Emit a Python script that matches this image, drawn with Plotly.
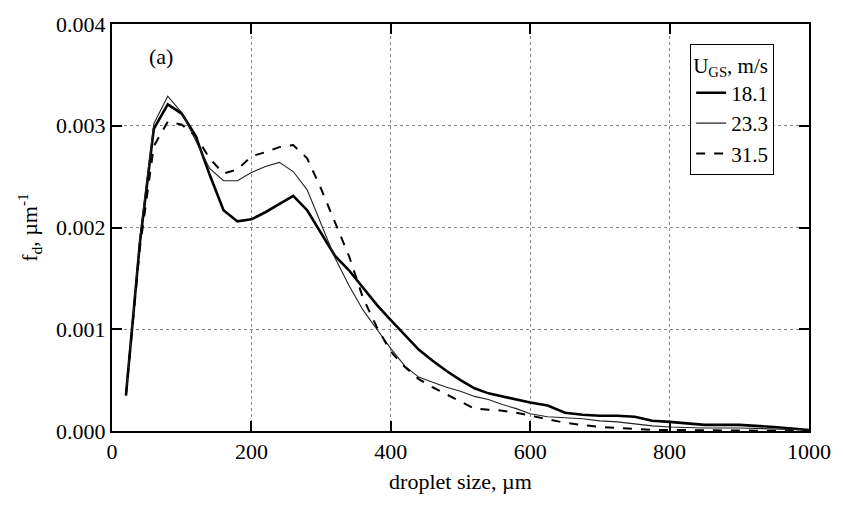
import plotly.graph_objects as go

size_um = [20, 40, 60, 80, 100, 120, 140, 160, 180, 200, 220, 240, 260, 280, 300,
           320, 340, 360, 380, 400, 420, 440, 460, 480, 500, 520, 540, 560, 580, 600,
           625, 650, 675, 700, 725, 750, 775, 800, 850, 900, 950, 1000]

f_181 = [0.00035, 0.00185, 0.00297, 0.00321, 0.00312, 0.00290, 0.00252, 0.00217, 0.00206, 0.00208,
         0.00215, 0.00223, 0.00231, 0.00217, 0.00194, 0.00172, 0.00158, 0.00141, 0.00124, 0.00109,
         0.00094, 0.00080, 0.00069, 0.00059, 0.00050, 0.00042, 0.00037, 0.00034, 0.00031, 0.00028,
         0.00025, 0.00018, 0.00016, 0.00015, 0.00015, 0.00014, 0.00010, 0.00009, 0.00006, 0.00006,
         0.00004, 0.00001]

f_233 = [0.00035, 0.00190, 0.00302, 0.00329, 0.00313, 0.00285, 0.00258, 0.00246, 0.00246, 0.00254,
         0.00260, 0.00264, 0.00255, 0.00237, 0.00204, 0.00170, 0.00143, 0.00119, 0.00100, 0.00081,
         0.00064, 0.00053, 0.00048, 0.00043, 0.00039, 0.00034, 0.00031, 0.00026, 0.00022, 0.00017,
         0.00014, 0.00013, 0.00012, 0.00010, 0.00009, 0.00007, 0.00005, 0.00004, 0.00003, 0.00003,
         0.00002, 0.00001]

f_315 = [0.00035, 0.00180, 0.00280, 0.00304, 0.00301, 0.00290, 0.00268, 0.00253, 0.00257, 0.00270,
         0.00274, 0.00279, 0.00281, 0.00268, 0.00238, 0.00205, 0.00172, 0.00131, 0.00102, 0.00078,
         0.00063, 0.00051, 0.00043, 0.00036, 0.00029, 0.00022, 0.00021, 0.00020, 0.00018, 0.00015,
         0.00011, 0.00008, 0.00006, 0.00004, 0.00003, 0.00002, 0.00001, 0.00001, 0.000005, 0.000003,
         0.000002, 0.0]

series_names = ["18.1", "23.3", "31.5"]
x_ticks = [0, 200, 400, 600, 800, 1000]
y_ticks = [0.000, 0.001, 0.002, 0.003, 0.004]
y_tick_text = ["0.000", "0.001", "0.002", "0.003", "0.004"]

FONT = "Liberation Serif"

fig = go.Figure()
fig.add_trace(go.Scatter(x=size_um, y=f_181, mode="lines", name=series_names[0],
                         line=dict(color="black", width=2.6)))
fig.add_trace(go.Scatter(x=size_um, y=f_233, mode="lines", name=series_names[1],
                         line=dict(color="#222222", width=1.1)))
fig.add_trace(go.Scatter(x=size_um, y=f_315, mode="lines", name=series_names[2],
                         line=dict(color="black", width=2, dash="dash")))

fig.add_annotation(x=70, y=0.00368, text="(a)", showarrow=False,
                   font=dict(family=FONT, size=22, color="black"))

axis_common = dict(
    showline=True, linecolor="black", linewidth=2, mirror="ticks",
    ticks="inside", ticklen=10, tickwidth=1.5, tickcolor="black",
    showgrid=True, gridcolor="#888888", griddash="dot", gridwidth=1,
    zeroline=False, tickfont=dict(family=FONT, size=22, color="black"),
)

fig.update_xaxes(range=[0, 1000], tickvals=x_ticks, ticktext=[str(v) for v in x_ticks],
                 title=dict(text="droplet size, µm", font=dict(family=FONT, size=22, color="black"),
                            standoff=10),
                 **axis_common)
fig.update_yaxes(range=[0, 0.004], tickvals=y_ticks, ticktext=y_tick_text,
                 title=dict(text="f<sub>d</sub>, µm<sup>-1</sup>",
                            font=dict(family=FONT, size=22, color="black"), standoff=12),
                 **axis_common)

fig.update_layout(
    width=843, height=506,
    margin=dict(l=112, r=28, t=17, b=75),
    plot_bgcolor="white", paper_bgcolor="white",
    font=dict(family=FONT, color="black"),
    legend=dict(
        title=dict(text="U<sub>GS</sub>, m/s", font=dict(family=FONT, size=21)),
        font=dict(family=FONT, size=21),
        x=0.95, y=0.95, xanchor="right", yanchor="top",
        bordercolor="black", borderwidth=1, bgcolor="white",
        tracegroupgap=0, itemwidth=30,
    ),
)

fig.write_html("out.html")
